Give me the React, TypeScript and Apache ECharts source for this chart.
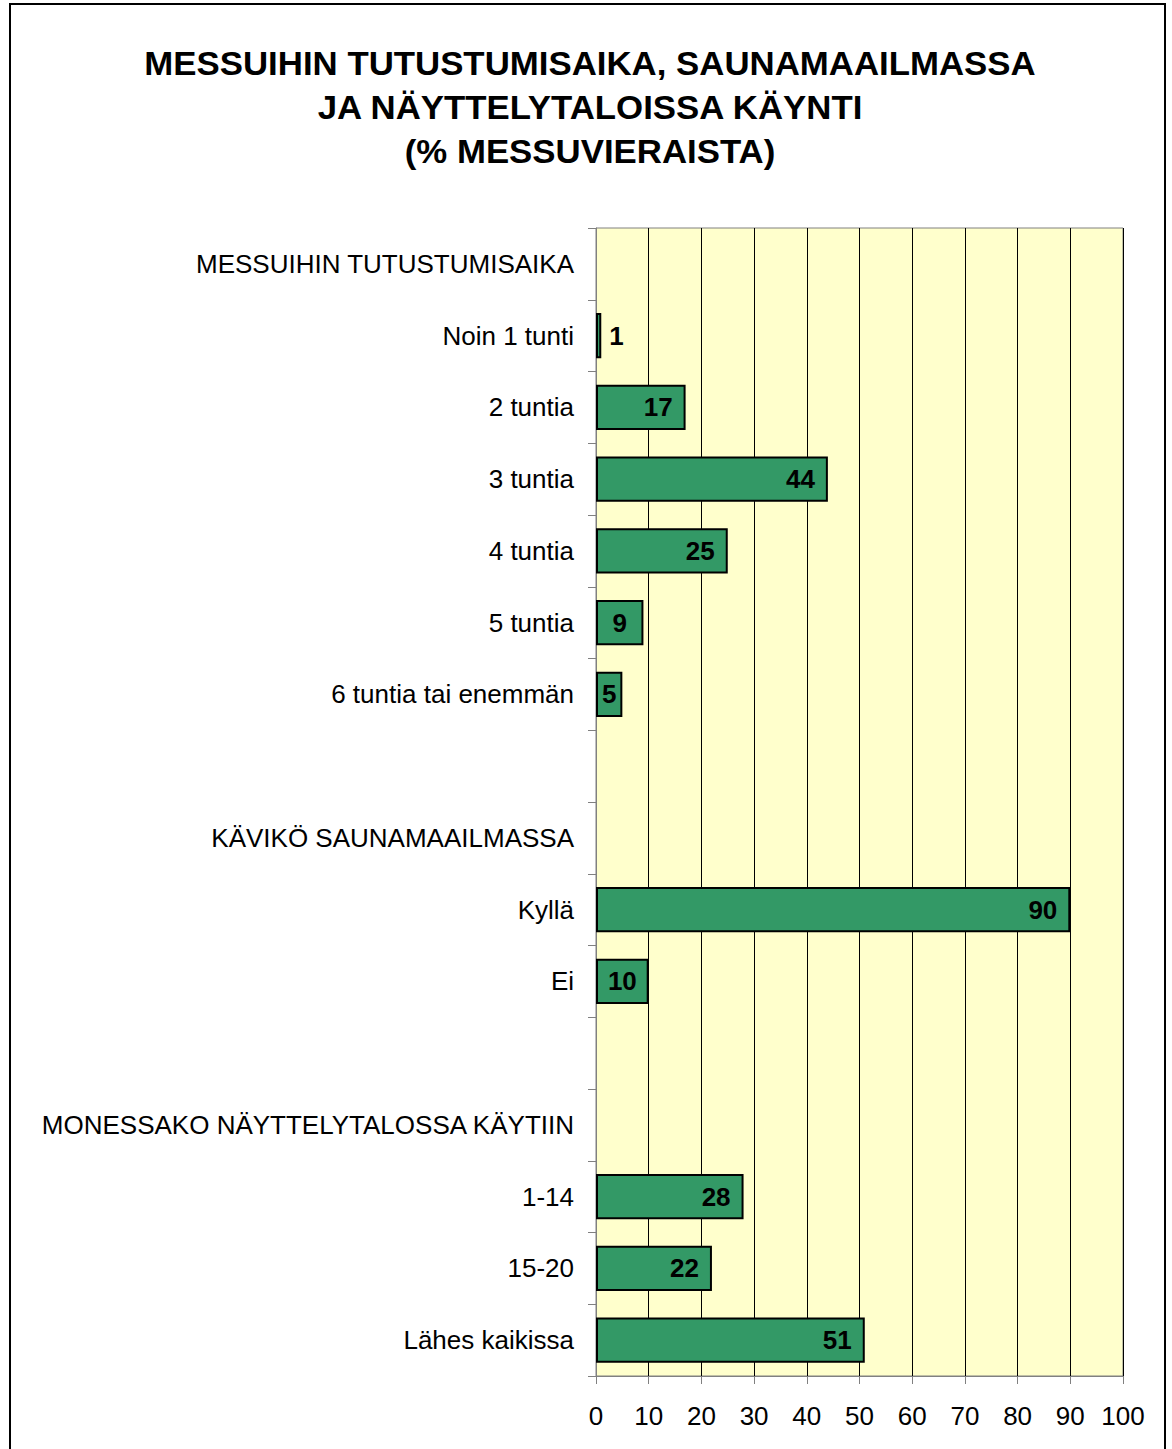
import React, { useEffect, useRef } from "react";
import * as echarts from "echarts";

const titleLines = [
  "MESSUIHIN TUTUSTUMISAIKA, SAUNAMAAILMASSA",
  "JA NÄYTTELYTALOISSA KÄYNTI",
  "(% MESSUVIERAISTA)",
];

const categories = [
  "MESSUIHIN TUTUSTUMISAIKA",
  "Noin 1 tunti",
  "2 tuntia",
  "3 tuntia",
  "4 tuntia",
  "5 tuntia",
  "6 tuntia tai enemmän",
  " ",
  "KÄVIKÖ SAUNAMAAILMASSA",
  "Kyllä",
  "Ei",
  "  ",
  "MONESSAKO NÄYTTELYTALOSSA KÄYTIIN",
  "1-14",
  "15-20",
  "Lähes kaikissa",
];

const values: (number | null)[] = [
  null, 1, 17, 44, 25, 9, 5, null, null, 90, 10, null, null, 28, 22, 51,
];

const xTicks = [0, 10, 20, 30, 40, 50, 60, 70, 80, 90, 100];

const FONT = "'Liberation Sans', Arial, sans-serif";

export default function App() {
  const ref = useRef<HTMLDivElement>(null);
  useEffect(() => {
    if (!ref.current) return;
    const chart = echarts.init(ref.current, null, { renderer: "svg" });
    const seriesData = values.map((v) => {
      if (v === null) return { value: null };
      let pos: any = "insideRight";
      let dist = 13;
      if (v < 5) {
        pos = "right";
        dist = 8;
      } else if (v < 15) {
        pos = "inside";
        dist = 0;
      }
      return { value: v, label: { position: pos, distance: dist } };
    });
    chart.setOption({
      animation: false,
      backgroundColor: "#ffffff",
      graphic: [
        {
          type: "rect",
          shape: { x: 10, y: 4, width: 1155, height: 1470 },
          style: { fill: "none", stroke: "#000", lineWidth: 2 },
          silent: true,
        },
        ...titleLines.map((t, i) => ({
          type: "text",
          x: 590,
          y: 63 + i * 44,
          scaleX: 1.055,
          style: {
            text: t,
            fontFamily: FONT,
            fontWeight: "bold",
            fontSize: 33,
            fill: "#000",
            textAlign: "center",
            textVerticalAlign: "middle",
          },
          silent: true,
        })),
      ],
      grid: {
        left: 596,
        right: 49,
        top: 228,
        bottom: 73,
        show: true,
        backgroundColor: "#FFFFCC",
        borderColor: "#808080",
        borderWidth: 1,
      },
      xAxis: {
        type: "value",
        min: 0,
        max: 100,
        interval: 10,
        axisLine: { show: true, lineStyle: { color: "#808080", width: 1 } },
        axisTick: { show: true, length: 8, lineStyle: { color: "#808080" } },
        axisLabel: {
          margin: 27,
          fontFamily: FONT,
          fontSize: 26,
          color: "#000",
          formatter: (v: number) => (xTicks.includes(v) ? String(v) : ""),
        },
        splitLine: { show: true, lineStyle: { color: "#000", width: 1 } },
      },
      yAxis: {
        type: "category",
        data: categories,
        inverse: true,
        axisLine: { show: true, lineStyle: { color: "#808080", width: 1 } },
        axisTick: { show: true, length: 8, lineStyle: { color: "#808080" } },
        axisLabel: {
          margin: 22,
          fontFamily: FONT,
          fontSize: 26,
          color: "#000",
          interval: 0,
        },
        splitLine: { show: false },
      },
      series: [
        {
          type: "bar",
          data: seriesData,
          barWidth: "63%",
          itemStyle: {
            color: "#339966",
            borderColor: "#000",
            borderWidth: 2,
          },
          label: {
            show: true,
            fontFamily: FONT,
            fontSize: 26,
            fontWeight: "bold",
            color: "#000",
          },
        },
      ],
    });
    return () => chart.dispose();
  }, []);
  return (
    <div
      ref={ref}
      style={{ position: "absolute", left: 0, top: 0, width: 1172, height: 1449 }}
    />
  );
}
